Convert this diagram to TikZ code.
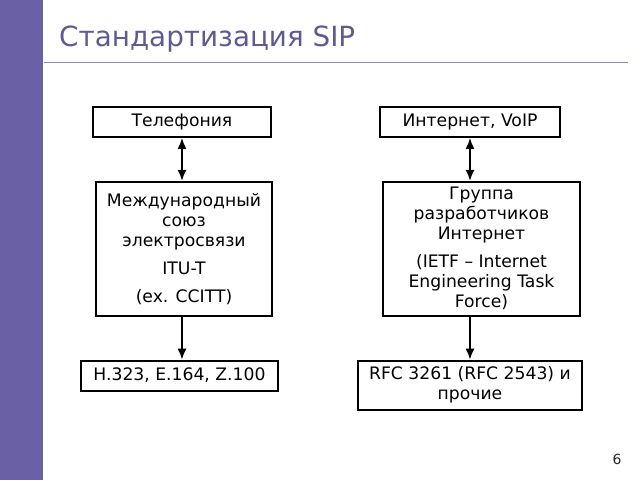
\documentclass[tikz,border=0pt]{standalone}
\usepackage{fontspec}
\setmainfont{DejaVu Sans}
\usepackage{xcolor}
\usetikzlibrary{positioning,arrows.meta}
\definecolor{barviolet}{RGB}{106,96,166}
\definecolor{titleviolet}{RGB}{96,90,146}
\definecolor{ruleviolet}{RGB}{140,138,190}

\begin{document}
\begin{tikzpicture}[x=1pt, y=-1pt, node distance=43pt,
  font=\fontsize{17.2}{20}\selectfont,
  box/.style={draw, line width=1.8pt, align=center, inner sep=2pt},
  arr/.style={line width=1.8pt, -{Latex[length=11pt,width=9pt]}},
  dblarr/.style={arr, {Latex[length=11pt,width=9pt]}-{Latex[length=11pt,width=9pt]}}]
\useasboundingbox (0,0) rectangle (640,480);
\fill[barviolet] (0,0) rectangle (43,480);
\node[anchor=base west, text=titleviolet, font=\fontsize{27.8}{34}\selectfont, inner sep=0pt] (title) at (59,46) {Стандартизация SIP};
\draw[ruleviolet, line width=1.4pt] (44,62.5) coordinate (rl) -- (628,62.5) coordinate (rr);
% left column
\node[box, minimum width=178pt, minimum height=30pt] (tel) at (182,122) {Телефония};
\node[box, below=of tel, xshift=2pt, minimum width=176pt, minimum height=134pt] (itu)
  {Международный\\союз\\электросвязи\\[8pt]ITU-T\\[8pt](ex. CCITT)};
\node[box, below=of itu, xshift=-4.5pt, minimum width=197pt, minimum height=30pt] (h323) {H.323, E.164, Z.100};
% right column
\node[box, minimum width=180pt, minimum height=30pt] (inet) at (470,122) {Интернет, VoIP};
\node[box, below=of inet, xshift=11.5pt, minimum width=197pt, minimum height=134pt] (ietf)
  {Группа\\разработчиков\\Интернет\\[8pt](IETF – Internet\\Engineering Task\\Force)};
\node[box, below=of ietf, xshift=-11.5pt, minimum width=224pt, minimum height=49pt] (rfc) {RFC 3261 (RFC 2543) и\\прочие};
\draw[dblarr] (tel.south) -- (tel.south |- itu.north);
\draw[arr] ([xshift=-2pt]itu.south) -- ([xshift=-2pt]itu.south |- h323.north);
\draw[dblarr] (inet.south) -- (inet.south |- ietf.north);
\draw[arr] (inet.south |- ietf.south) -- (inet.south |- rfc.north);
\node[font=\fontsize{14}{16}\selectfont, text=black!85] (pg) at (617,459) {6};
\end{tikzpicture}
\end{document}
